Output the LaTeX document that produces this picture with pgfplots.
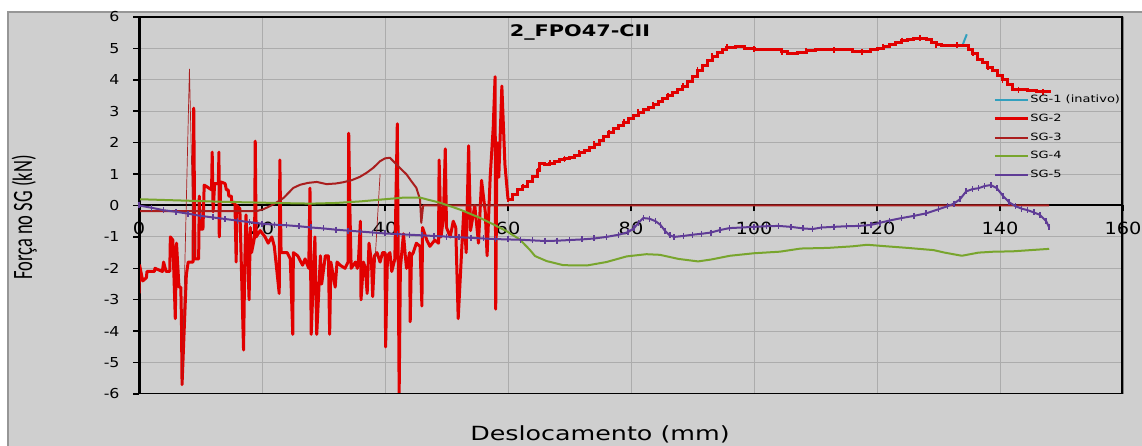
\documentclass[border=0pt]{standalone}
\usepackage{pgfplots}
\pgfplotsset{compat=1.18}
\usepackage{fontspec}
\setmainfont{DejaVu Sans}[FakeStretch=1.15]
\newfontfamily\titlefont{DejaVu Sans}[FakeStretch=1.3]
\newfontfamily\legfont{DejaVu Sans}[FakeStretch=1.3]
\newfontfamily\xlabfont{DejaVu Sans}[FakeStretch=1.3]
\newfontfamily\ylabfont{Carlito}
\definecolor{bg}{RGB}{207,207,207}
\definecolor{borderc}{RGB}{150,150,150}
\definecolor{gridc}{RGB}{172,172,172}
\definecolor{sgone}{RGB}{50,160,190}
\definecolor{sgtwo}{RGB}{225,0,0}
\definecolor{sgthree}{RGB}{170,30,30}
\definecolor{sgfour}{RGB}{120,165,45}
\definecolor{sgfive}{RGB}{95,60,150}
\begin{document}
\begin{tikzpicture}
\fill[white] (0,0) rectangle (1142pt,446pt);
\fill[bg] (8pt,0) rectangle (1142pt,434pt);
\draw[borderc, line width=1.5pt] (8pt,0) -- (8pt,434pt) -- (1142pt,434pt);
\begin{axis}[
  at={(139pt,52pt)}, anchor=south west,
  scale only axis, width=984pt, height=377pt,
  xmin=0, xmax=160, ymin=-6, ymax=6,
  axis x line*=middle, axis y line*=left,
  hide obscured x ticks=false, hide obscured y ticks=false,
  xtick={0,20,...,160}, ytick={-6,-5,...,6},
  grid=major, grid style={line width=1pt, color=gridc},
  tick align=outside, major tick length=6pt,
  tick style={black, line width=1.5pt},
  x axis line style={black, line width=2pt},
  y axis line style={black, line width=3pt},
  /pgf/number format/assume math mode=true,
  xticklabel style={font=\fontsize{16.8}{17}\selectfont, yshift=-7pt},
  yticklabel style={font=\fontsize{13.7}{14}\selectfont, xshift=-10pt},
  legend style={draw=none, fill=none, at={(0.868,0.795)}, anchor=north west,
    inner sep=0pt, row sep=7.8pt, font=\legfont\fontsize{10}{10}\selectfont,
    nodes={inner sep=1pt, text height=7pt, text depth=2pt}},
  legend cell align=left,
  legend image code/.code={\draw[#1] (0pt,0pt) -- (33pt,0pt);},
]
\addplot[sgone, line width=2pt] coordinates {(133.9,5.1)(134.6,5.45)};
\addlegendentry{SG-1 (inativo)}
\addplot[sgtwo, line width=3pt, line join=round] coordinates {
(0,-2.8)(0.1,-1.9)(0.6,-2.4)(1.2,-2.3)(1.3,-2.1)(2.5,-2.1)(2.6,-2.0)(3.8,-2.1)(4.0,-1.8)(4.4,-2.1)
(5.0,-2.1)(5.1,-1.0)(5.5,-1.1)(5.9,-3.6)(6.1,-1.2)(6.5,-2.6)(6.8,-2.6)(6.9,-3.6)(7.0,-5.7)(7.7,-2.2)
(8.0,-1.8)(8.8,-1.8)(8.9,3.1)(9.1,-1.7)(9.7,-1.7)(9.8,0.3)(10.0,-0.75)(10.4,-0.75)(10.6,0.65)(11.8,0.5)
(11.9,1.7)(12.05,-0.2)(12.3,0.7)(12.9,0.7)(13.0,1.7)(13.05,-1.0)(13.3,0.75)(14.0,0.7)(14.2,0.5)(14.5,0.5)
(14.6,0.3)(15.0,0.3)(15.1,0.1)(15.6,0.1)(15.8,-1.8)(15.9,0.0)(16.4,-0.1)(17.0,-4.6)(17.2,-1.8)(17.4,-0.3)
(17.7,-1.8)(17.9,-3.0)(18.1,-0.7)(18.3,-1.5)(18.8,-1.0)(18.9,2.05)(19.05,-1.0)(19.7,-0.8)(20.5,-1.0)(21.0,-1.2)
(21.6,-1.0)(22.0,-1.3)(22.8,-2.8)(22.9,1.45)(23.1,-1.5)(24.1,-1.5)(24.6,-1.7)(25.0,-4.1)(25.1,-1.5)(25.8,-1.6)
(26.6,-1.9)(27.0,-1.7)(27.6,-2.0)(27.8,0.55)(28.0,-4.1)(28.6,-1.0)(28.9,-4.1)(29.5,-1.6)(29.7,-2.5)(30.3,-1.6)
(30.8,-1.6)(31.0,-4.1)(31.2,-1.8)(31.9,-2.6)(32.2,-1.8)(32.7,-1.9)(33.5,-2.0)(34.0,-1.8)(34.1,2.3)(34.3,-0.2)
(34.5,-2.0)(35.2,-1.8)(35.5,-2.0)(35.7,-1.7)(36.0,-0.5)(36.1,-3.0)(36.5,-1.8)(36.8,-2.0)(37.1,-2.8)(37.4,-1.2)
(37.8,-1.8)(38.0,-2.9)(38.3,-1.6)(38.7,-1.5)(39.2,-1.8)(39.6,-1.5)(40.0,-1.5)(40.1,-4.5)(40.4,-1.6)(40.8,-1.5)
(41.1,-2.1)(41.6,-1.7)(42.0,2.6)(42.3,-6.0)(42.5,-2.0)(43.0,-0.9)(43.3,-1.6)(43.5,-2.0)(44.0,-1.5)(44.1,-3.7)
(44.3,-1.6)(44.6,-1.5)(45.1,-1.2)(45.7,-1.3)(46.0,-3.2)(46.1,-0.7)(46.8,-1.1)(47.3,-1.3)(48.1,-1.1)(48.7,-1.2)
(48.8,1.45)(49.1,-1.0)(49.5,-0.4)(49.8,1.8)(50.0,-0.7)(50.6,-1.0)(51.1,-0.5)(51.5,-0.7)(51.9,-3.6)(52.5,-1.3)
(52.8,-0.2)(53.2,-1.5)(53.6,1.9)(53.9,-0.8)(54.6,0.0)(55.2,-1.2)(55.7,0.8)(56.3,-0.2)(56.6,-1.6)(57.1,0.9)
(57.6,2.5)(57.9,4.1)(58.0,-3.3)(58.2,2.0)(58.5,0.9)(59.0,3.8)(59.5,1.3)(60.0,0.2)};
\addlegendentry{SG-2}
\addplot[sgtwo, line width=3pt, const plot, forget plot, mark=|, mark size=3pt, mark options={line width=1.8pt}, mark repeat=3] coordinates {
(60.0,0.2)(60.8,0.35)(61.6,0.5)(62.4,0.6)(63.2,0.75)(64.0,0.92)(64.8,1.1)(65.2,1.35)(66.0,1.3)(66.8,1.35)
(67.6,1.4)(68.4,1.45)(69.2,1.48)(70.0,1.52)(70.8,1.6)(71.6,1.68)(72.4,1.75)(73.2,1.85)(74.0,1.95)(74.8,2.08)
(75.6,2.2)(76.4,2.32)(77.2,2.45)(78.0,2.55)(78.8,2.65)(79.6,2.78)(80.4,2.88)(81.2,2.97)(82.0,3.05)(82.8,3.12)
(83.6,3.2)(84.4,3.3)(85.2,3.4)(86.0,3.5)(86.8,3.6)(87.6,3.7)(88.4,3.8)(89.2,3.95)(90.0,4.1)(90.8,4.3)
(91.6,4.45)(92.4,4.6)(93.2,4.75)(94.0,4.88)(94.8,4.98)(95.6,5.03)(97.0,5.05)(98.5,5.0)(100,4.98)(101.5,4.97)
(103,4.95)(104.5,4.9)(105.5,4.85)(107,4.88)(108.5,4.92)(110,4.97)(111.5,4.98)(113,4.95)(114.5,4.95)(116,4.9)
(117.5,4.9)(119,4.95)(120,5.0)(121,5.05)(122,5.12)(123,5.18)(124,5.25)(125,5.28)(126,5.3)(127,5.32)
(128,5.28)(128.8,5.2)(129.6,5.12)(130.5,5.1)(132,5.08)(133,5.1)(134,5.1)(134.8,4.98)(135.6,4.85)(136.4,4.65)
(137.2,4.55)(138,4.4)(138.8,4.3)(139.6,4.15)(140.4,4.0)(141.2,3.85)(142,3.7)(143,3.68)(144.5,3.65)(146,3.63)
(147,3.62)(148,3.6)};
\addplot[sgthree, line width=2pt, line join=round] coordinates {
(0,-0.18)(19.1,-0.18)(20.2,-0.12)(21.3,-0.02)(22.4,0.1)(23.5,0.24)(24.3,0.4)(25.1,0.56)(26.2,0.66)(27.5,0.72)
(28.9,0.75)(30.5,0.68)(32,0.7)(33.2,0.74)(34.5,0.8)(35.9,0.91)(37.0,1.04)(38.1,1.2)(39.2,1.41)(40.0,1.5)
(40.8,1.52)(41.6,1.36)(42.4,1.2)(43.5,0.99)(44.3,0.77)(45.1,0.56)(45.7,0.19)(45.9,-0.55)(46.2,0.0)(148,0.0)};
\addlegendentry{SG-3}
\addplot[sgthree, line width=0.7pt, forget plot] coordinates {(7.0,-5.7)(8.2,4.35)(8.9,-1.7)};
\addplot[sgthree, line width=0.7pt, forget plot] coordinates {(38.4,-1.7)(39.2,1.0)};
\addplot[sgfour, line width=2pt, line join=round] coordinates {
(0,0.2)(5,0.17)(10,0.14)(15,0.11)(20,0.09)(25,0.07)(28,0.06)(32,0.08)(36,0.13)(40,0.2)
(43,0.25)(45.7,0.25)(48.9,0.09)(52.2,-0.13)(55.4,-0.39)(57.6,-0.6)(59.8,-0.82)(61.9,-1.08)(63.5,-1.4)(64.4,-1.61)
(66.3,-1.77)(69,-1.9)(72.8,-1.91)(76,-1.8)(79.3,-1.62)(82.5,-1.55)(84.7,-1.57)(87.7,-1.7)(90.9,-1.78)(93,-1.72)
(96.1,-1.6)(100,-1.52)(104.2,-1.47)(107.6,-1.37)(112,-1.35)(116,-1.3)(118.4,-1.25)(121.6,-1.3)(125,-1.35)(129.2,-1.42)
(131,-1.5)(133.8,-1.6)(136.5,-1.5)(139,-1.47)(142,-1.46)(145,-1.42)(148,-1.38)};
\addlegendentry{SG-4}
\addplot[sgfive, line width=2pt, line join=round, mark=|, mark size=3pt, mark options={line width=1.5pt}] coordinates {
(0,0.0)(2,-0.07)(4,-0.15)(6,-0.2)(8,-0.26)(10,-0.33)(12,-0.38)(14,-0.43)(16,-0.48)(18,-0.53)
(20,-0.58)(22,-0.61)(24,-0.63)(26,-0.66)(28,-0.7)(30,-0.73)(32,-0.77)(34,-0.8)(36,-0.83)(38,-0.86)
(40,-0.89)(42,-0.91)(44,-0.93)(46,-0.95)(48,-0.97)(50,-0.99)(52,-1.01)(54,-1.03)(56,-1.05)(58,-1.07)
(60,-1.08)(62,-1.09)(64,-1.11)(66,-1.13)(68,-1.12)(70,-1.1)(72,-1.08)(74,-1.05)(76,-1.0)(78,-0.93)
(79.5,-0.85)(80.5,-0.72)(81.2,-0.55)(82,-0.4)(83,-0.42)(84,-0.5)(84.8,-0.62)(85.5,-0.8)(86.3,-0.95)(87,-1.0)
(88.5,-0.97)(90,-0.93)(91.5,-0.9)(93,-0.86)(94.5,-0.78)(96,-0.72)(98,-0.7)(100,-0.68)(102,-0.66)(104,-0.65)
(106,-0.68)(108,-0.73)(109.5,-0.75)(111,-0.7)(113,-0.68)(115,-0.66)(117,-0.65)(119,-0.62)(120.5,-0.55)(122,-0.48)
(124,-0.4)(126,-0.33)(128,-0.25)(130,-0.12)(131.5,-0.02)(132.5,0.06)(133.5,0.2)(134.5,0.45)(135.5,0.52)(136.5,0.55)
(137.5,0.62)(138.5,0.65)(139.5,0.55)(140.5,0.3)(141.5,0.1)(142.5,-0.02)(143.5,-0.1)(144.5,-0.15)(145.5,-0.22)(146.5,-0.3)
(147.5,-0.5)(148,-0.7)};
\addlegendentry{SG-5}
\draw[black, line width=2pt] (rel axis cs:0,0) rectangle (rel axis cs:1,1);
\draw[black, line width=3.5pt] (rel axis cs:1,0) -- (rel axis cs:1,1);
\end{axis}
\node[rotate=90, anchor=base, font=\ylabfont\fontsize{28}{28}\selectfont] at (32pt,228.5pt) {\scalebox{0.66}[1]{Força no SG (kN)}};
\node[anchor=base, font=\titlefont\bfseries\fontsize{16}{16}\selectfont] at (580pt,409pt) {2\_FPO47-CII};
\node[anchor=base, font=\xlabfont\fontsize{19.5}{20}\selectfont] at (600pt,5pt) {Deslocamento (mm)};
\pgfresetboundingbox
\useasboundingbox (0,0) rectangle (1142pt,446pt);
\end{tikzpicture}
\end{document}
